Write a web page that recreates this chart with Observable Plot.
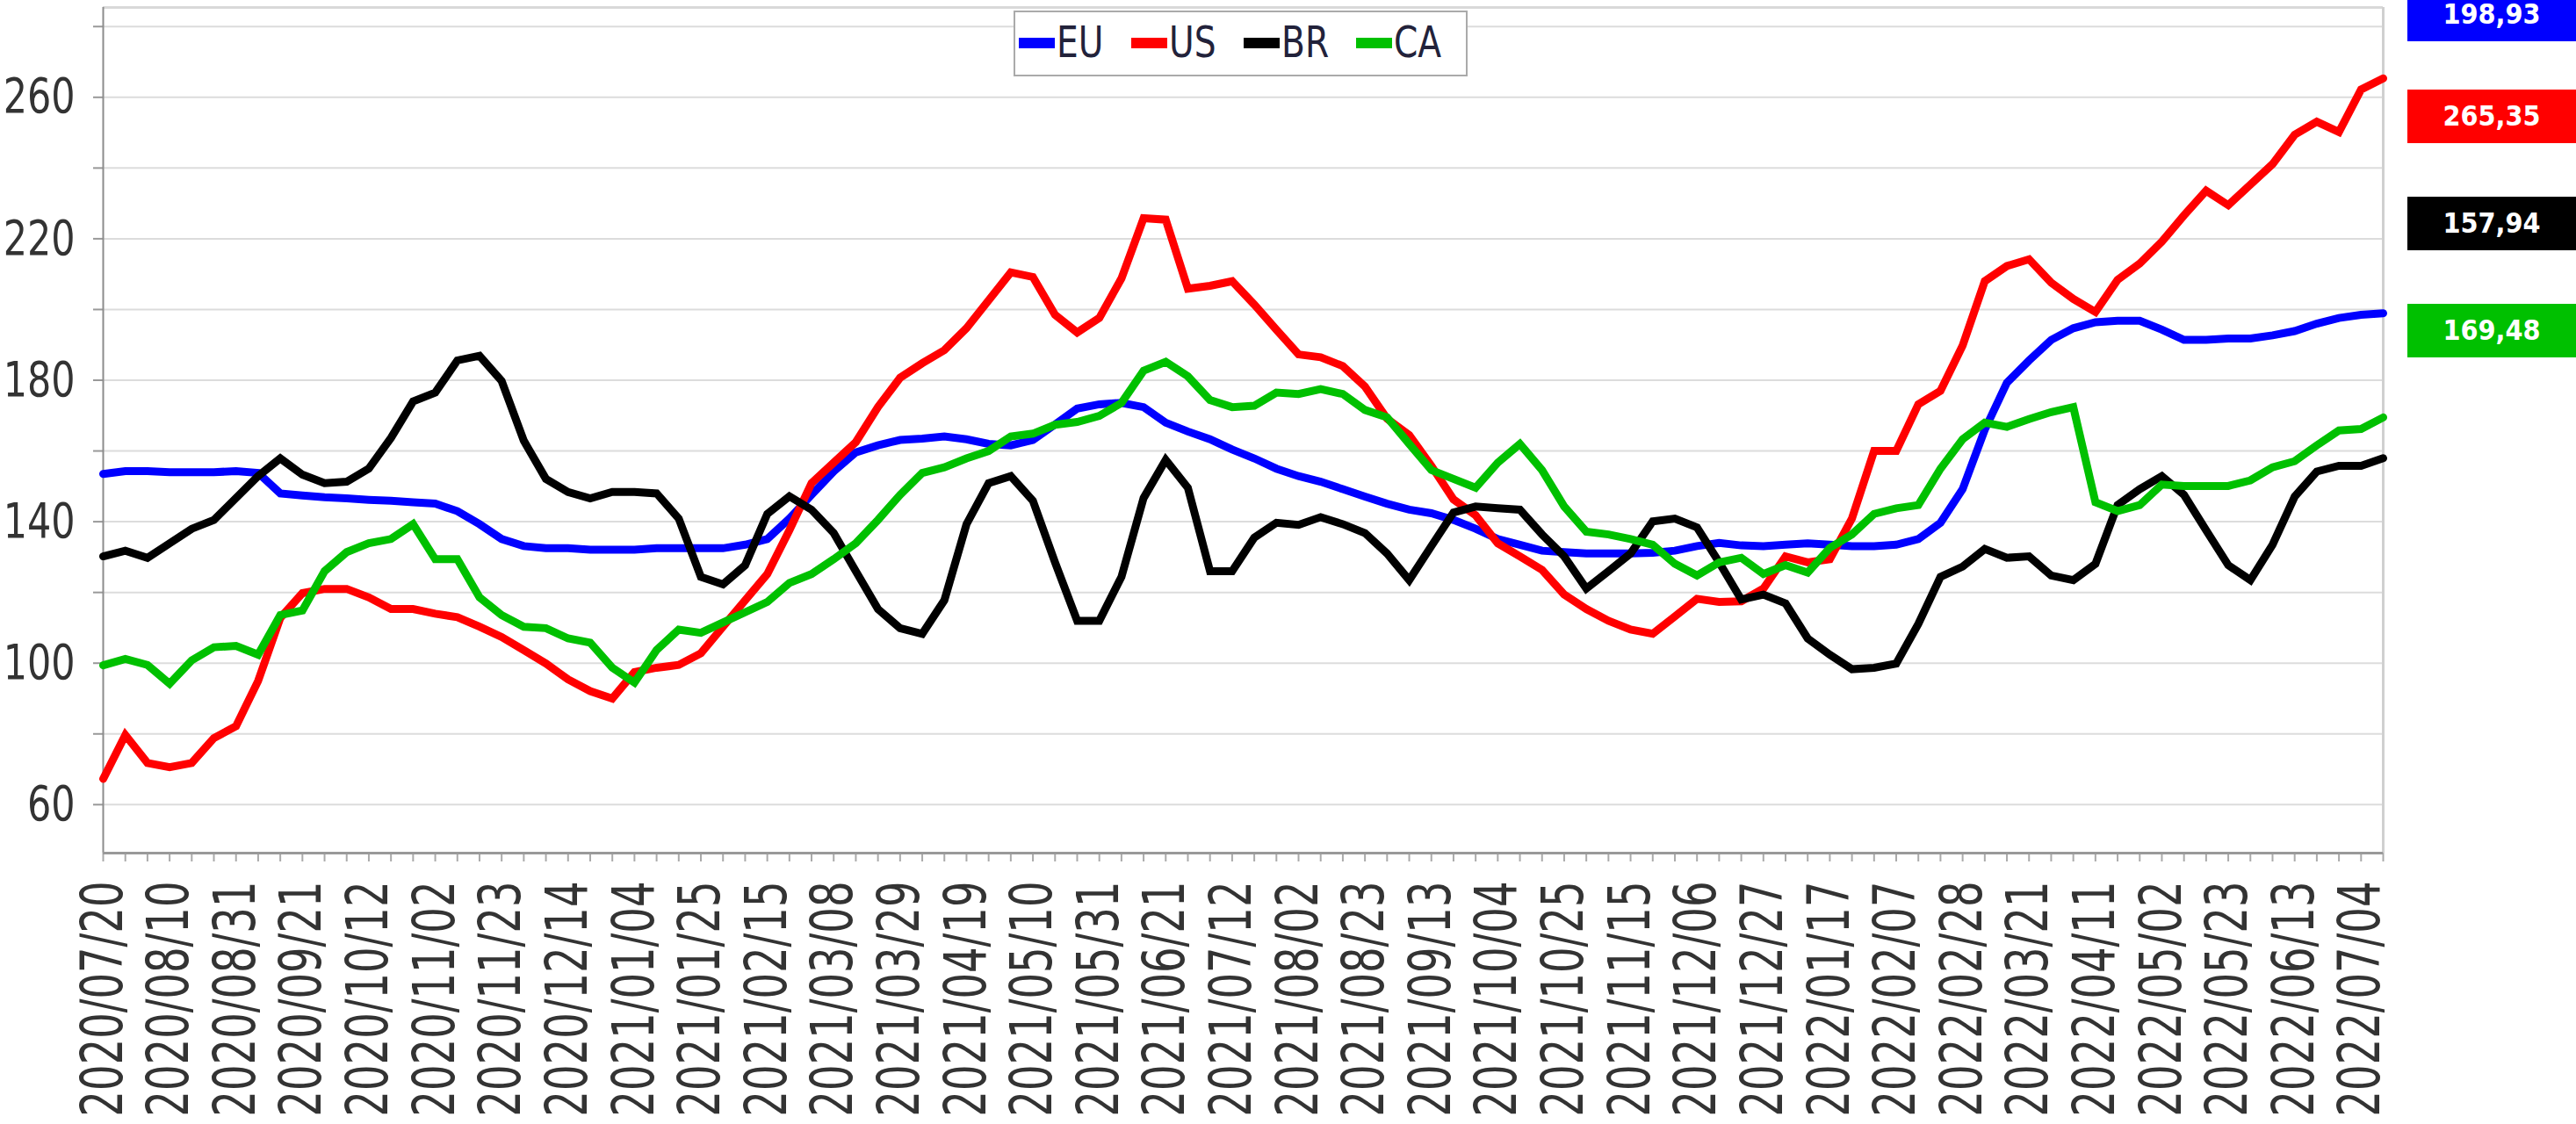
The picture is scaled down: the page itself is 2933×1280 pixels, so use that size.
<!DOCTYPE html>
<html><head><meta charset="utf-8">
<script src="https://cdn.jsdelivr.net/npm/d3@7"></script>
<script src="https://cdn.jsdelivr.net/npm/@observablehq/plot@0.6"></script>
<style>
html,body{margin:0;padding:0;background:#fff;overflow:hidden;}
#wrap{position:relative;width:2933px;height:1280px;}
#legend{position:absolute;left:1154px;top:12px;width:517px;height:75px;box-sizing:border-box;border:2px solid #aaa;background:#fff;}
.item{position:absolute;top:0;height:71px;width:128px;}
.sw{position:absolute;left:0;top:29px;width:41px;height:12px;}
.lt{position:absolute;left:43px;top:10px;font-family:"DejaVu Sans";font-size:49px;line-height:49px;color:#22223a;transform:scaleX(0.8);transform-origin:0 0;white-space:nowrap;}
.vbox{position:absolute;left:2741px;width:192px;height:61px;color:#fff;font-family:"DejaVu Sans Condensed","DejaVu Sans";font-weight:bold;font-size:32px;line-height:61px;text-align:center;}
</style></head>
<body><div id="wrap"></div>
<script>
// ---- data (weekly, 2020/07/20 .. 2022/07/11) ----
const startDate = "2020-07-20";
const seriesNames = ["EU", "US", "BR", "CA"];
const seriesColors = ["#0000ff", "#ff0000", "#000000", "#00c000"];
const EU = [153.5,154.3,154.3,154.0,154.0,154.0,154.3,153.8,148.0,147.4,
146.9,146.6,146.2,145.9,145.5,145.1,143.0,139.3,135.1,133.1,
132.5,132.5,132.1,132.1,132.1,132.5,132.5,132.5,132.5,133.5,
135.1,140.9,147.6,154.2,159.6,161.6,163.1,163.5,164.1,163.3,
162.0,161.6,163.1,167.5,172.0,173.2,173.6,172.4,168.0,165.5,
163.3,160.4,157.9,155.0,152.9,151.3,149.2,147.1,145.1,143.4,
142.4,140.5,138.0,135.1,133.5,131.8,131.4,131.0,131.0,131.0,
131.2,131.8,133.1,134.0,133.3,133.1,133.5,133.9,133.5,133.1,
133.1,133.5,135.1,139.7,149.2,166.0,179.3,185.6,191.4,194.7,
196.4,196.8,196.8,194.3,191.4,191.4,191.8,191.8,192.7,193.9,
196.0,197.6,198.5,198.93];
const US = [67.3,79.7,71.8,70.6,71.8,78.8,82.2,95.0,112.8,119.8,
121.0,121.0,118.6,115.3,115.3,114.0,113.0,110.3,107.4,103.7,
99.9,95.4,92.1,90.0,97.5,98.7,99.5,102.8,110.3,117.8,
125.2,137.6,150.9,156.7,162.5,172.4,180.7,184.8,188.5,194.7,
202.6,210.5,209.2,198.5,193.5,197.6,208.8,225.8,225.4,205.9,
206.7,208.0,201.4,194.3,187.3,186.5,184.0,178.2,169.1,164.5,
155.8,146.3,141.8,133.9,130.2,126.4,119.4,115.3,112.0,109.5,
108.3,113.2,118.2,117.3,117.5,121.1,130.2,128.5,129.4,140.9,
160.0,160.0,173.2,177.0,189.8,208.0,212.3,214.2,207.6,203.0,
199.3,208.4,213.0,219.2,226.6,233.6,229.5,235.3,241.1,249.4,
253.1,250.2,262.2,265.35];
const BR = [130.2,131.8,129.8,133.9,138.0,140.5,146.7,152.9,157.9,153.3,
150.9,151.3,155.0,163.7,174.0,176.5,185.6,186.9,179.8,162.9,
152.1,148.4,146.6,148.4,148.4,148.0,140.9,124.4,122.3,127.7,
142.2,147.2,143.4,136.8,126.0,115.3,109.9,108.3,117.8,139.3,
150.9,152.9,145.9,128.5,112.0,112.0,124.4,146.7,157.5,149.6,
126.0,126.0,135.5,139.7,139.1,141.3,139.3,136.8,131.0,123.5,
133.1,142.6,144.3,143.8,143.4,136.4,130.2,121.1,126.0,131.0,
140.1,140.9,138.4,128.5,118.0,119.4,116.9,107.0,102.4,98.3,
98.7,99.9,111.1,124.4,127.3,132.3,129.8,130.2,124.8,123.5,
128.1,144.7,149.2,152.9,147.6,137.6,127.7,123.5,133.5,147.1,
154.2,155.8,155.8,157.94];
const CA = [99.4,101.2,99.5,94.2,100.8,104.5,104.9,102.4,113.6,114.9,
126.0,131.4,133.9,135.1,139.3,129.4,129.4,118.6,113.6,110.3,
109.9,107.0,105.8,98.7,94.5,103.7,109.5,108.6,111.5,114.4,
117.3,122.7,125.2,129.4,133.9,140.5,147.6,153.8,155.4,157.9,
160.0,164.1,164.9,167.4,168.2,169.9,173.6,182.7,185.2,181.1,
174.4,172.4,172.8,176.5,176.1,177.5,176.1,171.6,169.5,162.0,
154.6,152.1,149.6,156.7,162.0,154.6,144.3,137.2,136.4,135.1,
133.5,128.1,124.8,128.5,129.8,125.2,127.7,125.6,132.6,136.4,
142.2,143.8,144.7,155.0,163.3,168.0,166.8,169.0,171.0,172.4,
145.5,143.0,144.7,150.5,150.1,150.1,150.1,151.7,155.4,157.1,
161.6,165.8,166.2,169.48];
const yTicks = [60,80,100,120,140,160,180,200,220,240,260,280];
const yLabelTicks = [60,100,140,180,220,260];
const yDomain = [46.3, 285.4];

// ---- build ----
const seriesValues = [EU, US, BR, CA];
const t0 = new Date(startDate + "T00:00:00Z");
const dates = EU.map((_, i) => d3.utcDay.offset(t0, 7 * i));
const labelDates = dates.filter((_, i) => i % 3 === 0);
const fmt = d3.utcFormat("%Y/%m/%d");

const lineMarks = seriesNames.map((name, k) =>
  Plot.line(seriesValues[k].map((v, i) => ({date: dates[i], value: v})),
    {x: "date", y: "value", stroke: seriesColors[k], strokeWidth: 9, strokeLinejoin: "miter", strokeMiterlimit: 3})
);

const svg = Plot.plot({
  width: 2933, height: 1280,
  marginLeft: 117, marginRight: 220, marginTop: 8, marginBottom: 309,
  style: {fontFamily: "DejaVu Sans", background: "#fff", overflow: "visible"},
  x: {type: "utc", domain: [dates[0], dates[dates.length - 1]], label: null},
  y: {domain: yDomain, label: null},
  marks: [
    Plot.gridY(yTicks, {stroke: "#dcdcdc", strokeWidth: 2, strokeOpacity: 1}),
    Plot.ruleY([yDomain[1]], {stroke: "#d9d9d9", strokeWidth: 3}),
    Plot.ruleX([dates[dates.length - 1]], {stroke: "#d0d0d0", strokeWidth: 3}),
    Plot.axisY({ticks: yTicks, label: null, tickSize: 11, tickPadding: 21, stroke: "#999", strokeWidth: 2, fill: "#333", fontSize: 55,
      tickFormat: d => yLabelTicks.includes(d) ? String(d) : ""}),
    Plot.axisX({ticks: dates, label: null, tickSize: 10, stroke: "#aaa", strokeWidth: 2, tickFormat: () => ""}),
    Plot.axisX({ticks: labelDates, label: null, tickSize: 0, tickPadding: 32, tickRotate: -90, fill: "#333", fontSize: 66, tickFormat: fmt}),
    Plot.ruleX([dates[0]], {stroke: "#8c8c8c", strokeWidth: 2}),
    Plot.ruleY([yDomain[0]], {stroke: "#999", strokeWidth: 3}),
    ...lineMarks
  ]
});
document.getElementById("wrap").appendChild(svg);

// narrow the axis tick label glyphs along their text direction
function squeeze(text, s) {
  const t = text.getAttribute("transform");
  if (t) { text.setAttribute("transform", t + ` scale(${s},1)`); return; }
  const x = +(text.getAttribute("x") || 0), y = +(text.getAttribute("y") || 0);
  text.removeAttribute("x"); text.removeAttribute("y");
  text.setAttribute("transform", `translate(${x},${y}) scale(${s},1)`);
}
svg.querySelectorAll("text").forEach(tx => {
  const g = tx.closest("g[aria-label]");
  const lab = g ? g.getAttribute("aria-label") : "";
  if (lab.startsWith("y-axis")) squeeze(tx, 0.78);
  else if (lab.startsWith("x-axis")) squeeze(tx, 0.705);
});

// legend
const wrap = document.getElementById("wrap");
const legend = document.createElement("div");
legend.id = "legend";
seriesNames.forEach((name, k) => {
  const it = document.createElement("div");
  it.className = "item";
  it.style.left = (4 + 128 * k) + "px";
  it.innerHTML = `<div class="sw" style="background:${seriesColors[k]}"></div><div class="lt">${name}</div>`;
  legend.appendChild(it);
});
wrap.appendChild(legend);

// last-value boxes
const boxTops = [-14, 102, 224, 346];
seriesNames.forEach((name, k) => {
  const vals = seriesValues[k];
  const b = document.createElement("div");
  b.className = "vbox";
  b.style.top = boxTops[k] + "px";
  b.style.background = seriesColors[k];
  b.textContent = vals[vals.length - 1].toFixed(2).replace(".", ",");
  wrap.appendChild(b);
});
</script></body></html>
